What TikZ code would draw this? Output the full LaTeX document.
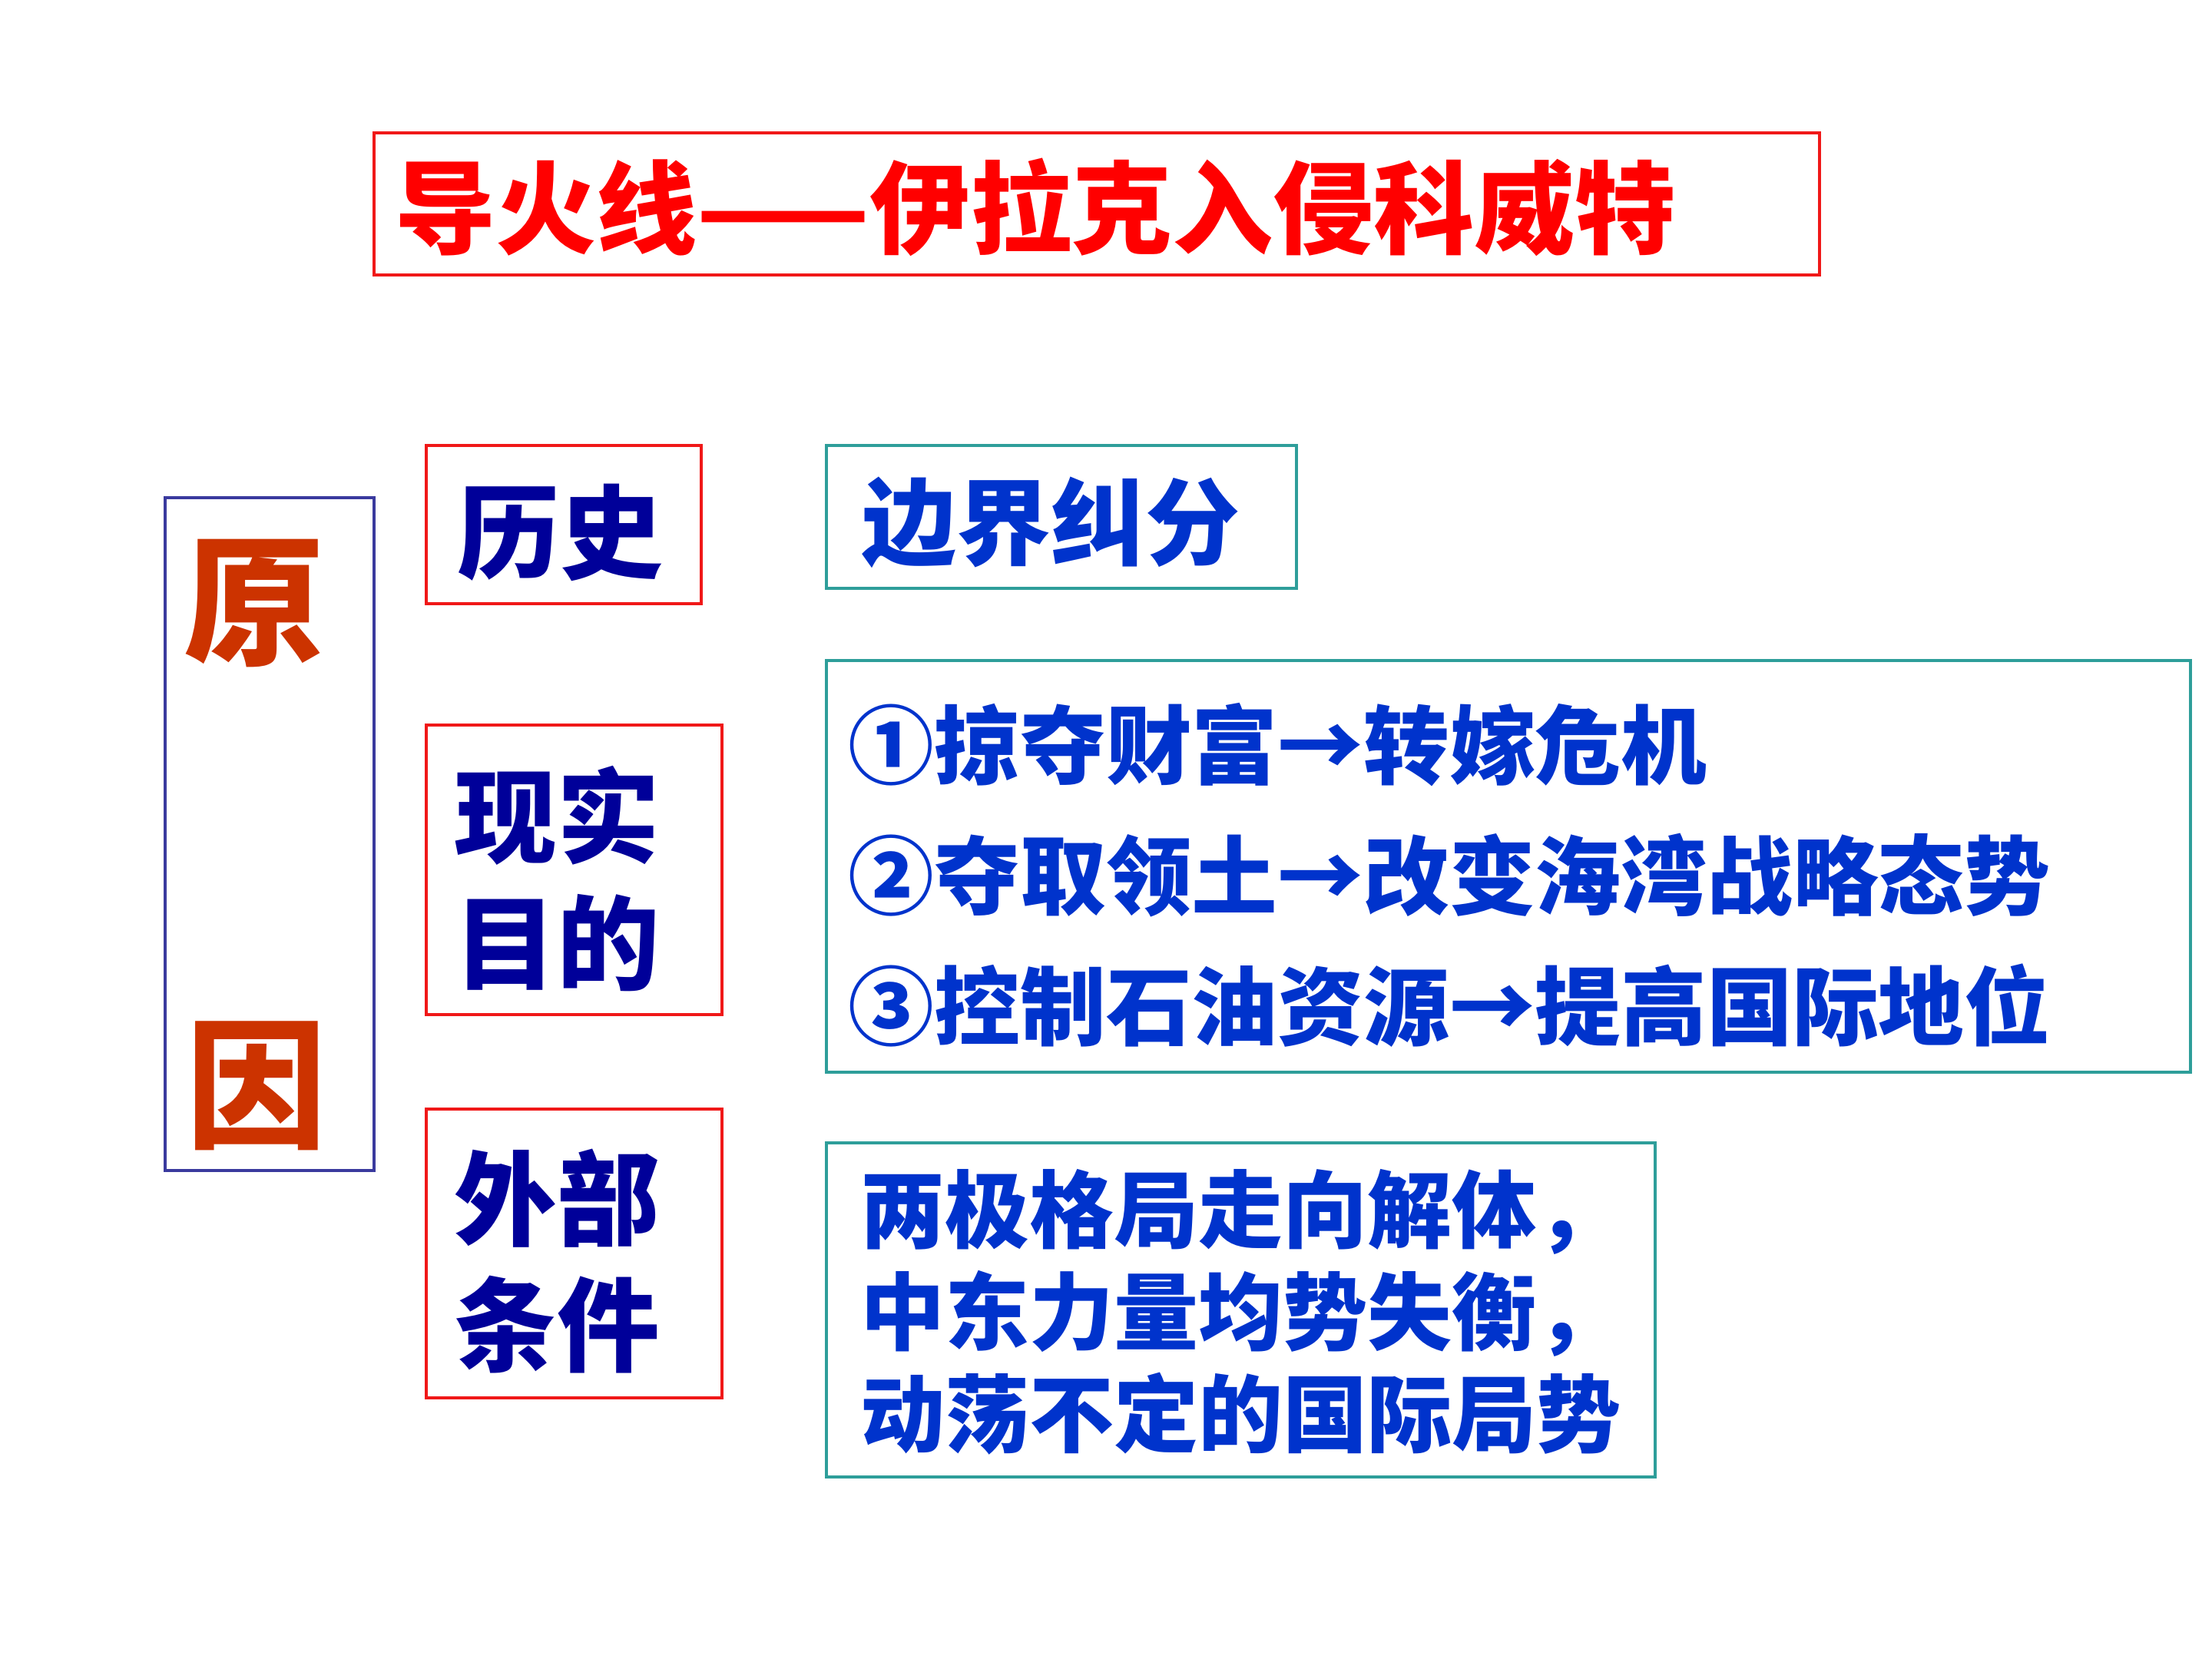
\documentclass[tikz,border=0pt]{standalone}
\usepackage{fontspec}
\newfontfamily\cjk{Noto Sans CJK SC}
\definecolor{titlered}{HTML}{FF0000}
\definecolor{boxred}{HTML}{F01818}
\definecolor{causered}{HTML}{CC3300}
\definecolor{causeblue}{HTML}{3A3A9E}
\definecolor{darkblue}{HTML}{000099}
\definecolor{tealline}{HTML}{2E9E9A}
\definecolor{brightblue}{HTML}{0033CC}
\tikzset{
  redbox/.style={draw=boxred, line width=1pt, rectangle, inner sep=0pt},
  tealbox/.style={draw=tealline, line width=1pt, rectangle, inner sep=0pt},
  causebox/.style={draw=causeblue, line width=1pt, rectangle, inner sep=0pt},
  lefttext/.style={font=\cjk\bfseries\fontsize{38pt}{46.9pt}\selectfont, text=darkblue, align=center, inner sep=0pt},
  righttext/.style={text=brightblue, align=left, inner sep=0pt, anchor=west},
  causetext/.style={font=\cjk\bfseries\fontsize{52pt}{60pt}\selectfont, text=causered, inner sep=0pt}
}
\begin{document}
\begin{tikzpicture}
\useasboundingbox (0,0) rectangle (28.8,-21.6);
% title
\node[redbox, minimum width=18.82cm, minimum height=1.85cm] (title) at (14.28,-2.655) {};
\node[anchor=west, inner sep=0pt, text=titlered, font=\cjk\bfseries\fontsize{37.3pt}{40pt}\selectfont] (titletext) at (5.14,-2.70) {导火线——伊拉克入侵科威特};
% cause box
\node[causebox, minimum width=2.72cm, minimum height=8.76cm] (cause) at (3.51,-10.86) {};
\node[causetext] (yuan) at (3.31,-7.86) {原};
\node[causetext] (yin) at (3.34,-14.14) {因};
% left red boxes
\node[redbox, minimum width=3.58cm, minimum height=2.06cm] (lishi) at (7.34,-6.83) {};
\node[lefttext] (lishit) at (7.29,-6.93) {历史};
\node[redbox, minimum width=3.85cm, minimum height=3.77cm] (xianshi) at (7.475,-11.325) {};
\node[lefttext] (xianshit) at (7.25,-11.44) {现实\\目的};
\node[redbox, minimum width=3.85cm, minimum height=3.76cm] (waibu) at (7.475,-16.32) {};
\node[lefttext] (waibut) at (7.25,-16.42) {外部\\条件};
% right teal boxes
\node[tealbox, minimum width=6.12cm, minimum height=1.86cm] (bianjie) at (13.82,-6.73) {};
\node[righttext, font=\cjk\bfseries\fontsize{35pt}{40pt}\selectfont] (bianjiet) at (11.22,-6.80) {边界纠分};
\node[tealbox, minimum width=17.76cm, minimum height=5.36cm] (mudi) at (19.64,-11.28) {};
\node[righttext, font=\cjk\bfseries\fontsize{31.8pt}{48.4pt}\selectfont] (mudit) at (11.04,-11.39) {①掠夺财富→转嫁危机\\②夺取领土→改变海湾战略态势\\③控制石油资源→提高国际地位};
\node[tealbox, minimum width=10.79cm, minimum height=4.35cm] (tiaojian) at (16.155,-17.055) {};
\node[righttext, font=\cjk\bfseries\fontsize{31.3pt}{37.8pt}\selectfont] (tiaojiant) at (11.20,-17.08) {两极格局走向解体，\\中东力量均势失衡，\\动荡不定的国际局势};
\end{tikzpicture}
\end{document}
